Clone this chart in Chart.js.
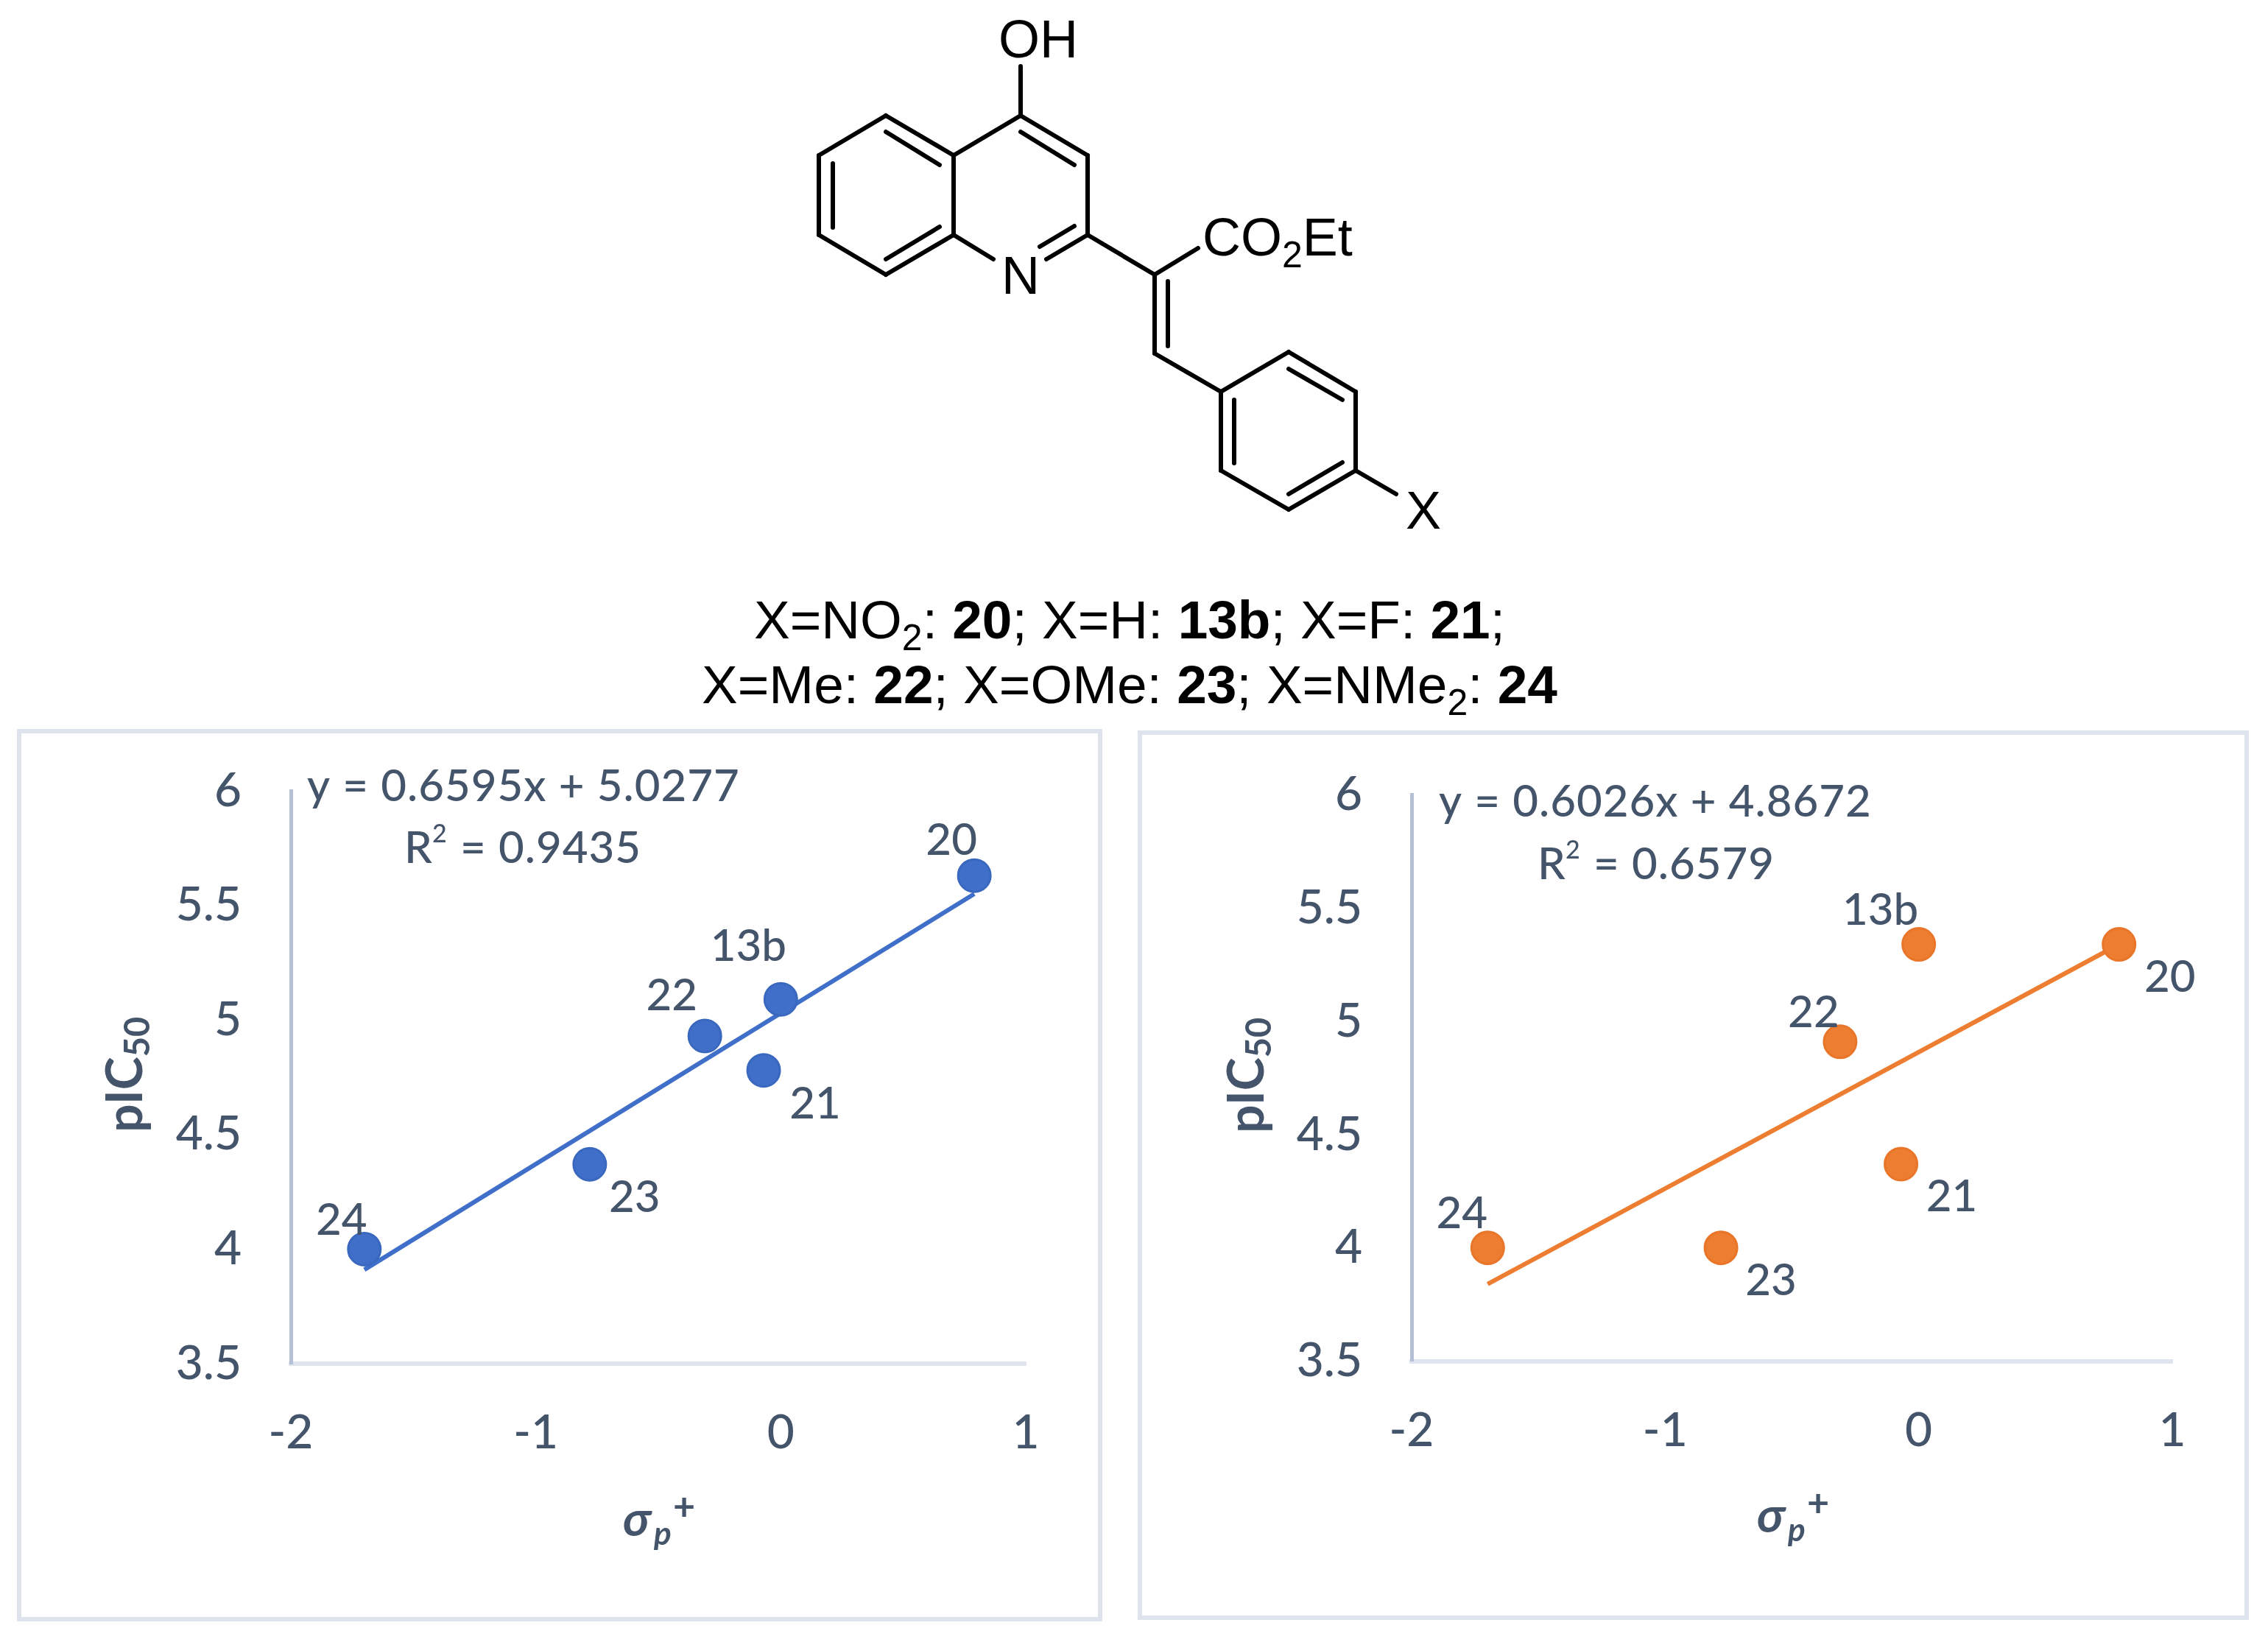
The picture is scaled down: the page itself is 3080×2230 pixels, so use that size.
<!DOCTYPE html>
<html>
<head>
<meta charset="utf-8">
<title>pIC50 vs sigma plus</title>
<script src="https://cdn.jsdelivr.net/npm/chart.js@4"></script>
<style>
    html, body { margin: 0; padding: 0; background: #fff; }
    #page { position: relative; width: 3080px; height: 2230px; overflow: hidden; background: #fff; }
    #structure { position: absolute; left: 0; top: 0; }
    #structure line { stroke: #000; stroke-width: 6; stroke-linecap: round; }
    #structure text { font-family: "Liberation Sans", Arial, sans-serif; fill: #000; }
    .panel { position: absolute; box-sizing: border-box; border: 6px solid #dfe4ec; background: #fff; }
    .panel canvas { position: absolute; left: -6px; top: -6px; display: block; }
    #panel-left { left: 23px; top: 990px; width: 1474px; height: 1212px; }
    #panel-right { left: 1545px; top: 992px; width: 1509px; height: 1208px; }
</style>
</head>
<body>
<div id="page">
    <svg id="structure" width="3080" height="985" viewBox="0 0 3080 985">
        <!-- quinoline -->
        <line x1="1386" y1="90" x2="1386" y2="157"/>
        <line x1="1386" y1="157" x2="1477" y2="211"/>
        <line x1="1477" y1="211" x2="1477" y2="319"/>
        <line x1="1477" y1="319" x2="1421" y2="352"/>
        <line x1="1349" y1="352" x2="1295" y2="319"/>
        <line x1="1295" y1="319" x2="1295" y2="211"/>
        <line x1="1295" y1="211" x2="1386" y2="157"/>
        <line x1="1295" y1="211" x2="1203" y2="157"/>
        <line x1="1203" y1="157" x2="1112" y2="211"/>
        <line x1="1112" y1="211" x2="1112" y2="319"/>
        <line x1="1112" y1="319" x2="1203" y2="373"/>
        <line x1="1203" y1="373" x2="1295" y2="319"/>
        <line x1="1203" y1="179" x2="1276" y2="224"/>
        <line x1="1131" y1="222" x2="1131" y2="309"/>
        <line x1="1203" y1="352" x2="1276" y2="308"/>
        <line x1="1386" y1="179" x2="1459" y2="224"/>
        <line x1="1412" y1="335" x2="1459" y2="307"/>
        <!-- side chain -->
        <line x1="1477" y1="319" x2="1568" y2="373"/>
        <line x1="1568" y1="373" x2="1627" y2="337"/>
        <line x1="1568" y1="373" x2="1568" y2="480"/>
        <line x1="1586" y1="382" x2="1586" y2="470"/>
        <line x1="1568" y1="480" x2="1658" y2="532"/>
        <!-- phenyl -->
        <line x1="1658" y1="532" x2="1750" y2="478"/>
        <line x1="1750" y1="478" x2="1841" y2="532"/>
        <line x1="1841" y1="532" x2="1841" y2="639"/>
        <line x1="1841" y1="639" x2="1750" y2="692"/>
        <line x1="1750" y1="692" x2="1658" y2="639"/>
        <line x1="1658" y1="639" x2="1658" y2="532"/>
        <line x1="1750" y1="501" x2="1823" y2="543"/>
        <line x1="1676" y1="543" x2="1676" y2="629"/>
        <line x1="1750" y1="671" x2="1823" y2="628"/>
        <line x1="1841" y1="639" x2="1896" y2="671"/>
        <!-- atom labels -->
        <text x="1410" y="78" font-size="72" text-anchor="middle">OH</text>
        <text x="1386" y="399" font-size="72" text-anchor="middle">N</text>
        <text x="1633" y="347" font-size="72">CO<tspan font-size="50" dy="16">2</tspan><tspan dy="-16">Et</tspan></text>
        <text x="1933" y="718" font-size="72" text-anchor="middle">X</text>
        <!-- caption -->
        <text x="1534" y="867" font-size="73" text-anchor="middle">X=NO<tspan font-size="50" dy="16">2</tspan><tspan dy="-16">: </tspan><tspan font-weight="bold">20</tspan>; X=H: <tspan font-weight="bold">13b</tspan>; X=F: <tspan font-weight="bold">21</tspan>;</text>
        <text x="1534" y="955" font-size="73" text-anchor="middle">X=Me: <tspan font-weight="bold">22</tspan>; X=OMe: <tspan font-weight="bold">23</tspan>; X=NMe<tspan font-size="50" dy="16">2</tspan><tspan dy="-16">: </tspan><tspan font-weight="bold">24</tspan></text>
    </svg>
    <div class="panel" id="panel-left"><canvas id="chart-left" width="1474" height="1212"></canvas></div>
    <div class="panel" id="panel-right"><canvas id="chart-right" width="1509" height="1208"></canvas></div>
</div>

<script>
    const compounds  = ["20", "13b", "21", "22", "23", "24"];
    const sigmaPlus  = [0.79, 0, -0.07, -0.31, -0.78, -1.7];
    const pic50Left  = [5.63, 5.09, 4.78, 4.93, 4.37, 4.0];
    const pic50Right = [5.34, 5.34, 4.37, 4.91, 4.0, 4.0];

    // trendline ends
    const trendX     = [-1.7, 0.79];
    const trendLeft  = [3.91, 5.55];
    const trendRight = [3.84, 5.34];

    const xRange = [-2, 1];
    const yRange = [3.5, 6];

    const INK  = "#44546a";
    const FONT = "Lato, 'Noto Sans', sans-serif";

    // Draws compound names, the fit equation and the two axis titles
    const notes = {
        id: "notes",
        afterDatasetsDraw(chart, args, o) {
            const ctx = chart.ctx;
            const points = chart.getDatasetMeta(0).data;
            ctx.save();
            ctx.fillStyle = INK;
            ctx.textBaseline = "middle";

            ctx.font = "500 60px " + FONT;
            ctx.textAlign = "center";
            points.forEach((pt, i) => {
                const off = o.labelOffsets[i];
                ctx.fillText(compounds[i], pt.x + off[0], pt.y + off[1]);
            });

            ctx.textAlign = "left";
            ctx.letterSpacing = "1px";
            ctx.fillText(o.equation, o.eqPos[0], o.eqPos[1]);
            ctx.fillText(o.r2Label, o.r2Pos[0], o.r2Pos[1]);
            ctx.font = "500 34px " + FONT;
            ctx.fillText("2", o.r2Pos[0] + 38, o.r2Pos[1] - 20);
            ctx.font = "500 60px " + FONT;
            ctx.fillText(o.r2Value, o.r2Pos[0] + 76, o.r2Pos[1]);
            ctx.letterSpacing = "0px";

            // y title, rotated
            ctx.textBaseline = "alphabetic";
            ctx.save();
            ctx.translate(o.yTitle[0], o.yTitle[1]);
            ctx.rotate(-Math.PI / 2);
            ctx.textAlign = "left";
            ctx.font = "bold 68px " + FONT;
            ctx.fillText("pIC", -76, 0);
            const w = ctx.measureText("pIC").width;
            ctx.font = "bold 47px " + FONT;
            ctx.fillText("50", -76 + w, 10);
            ctx.restore();

            // x title
            ctx.font = "italic bold 66px " + FONT;
            ctx.fillText("σ", o.xTitle[0], o.xTitle[1]);
            ctx.font = "italic bold 44px " + FONT;
            ctx.fillText("p", o.xTitle[0] + 42, o.xTitle[1] + 12);
            ctx.font = "bold 52px " + FONT;
            ctx.fillText("+", o.xTitle[0] + 68, o.xTitle[1] - 22);
            ctx.restore();
        }
    };

    function makeChart(canvasId, values, trend, colour, edge, pad, noteOpts) {
        const canvas = document.getElementById(canvasId);
        return new Chart(canvas.getContext("2d"), {
            type: "scatter",
            data: {
                datasets: [
                    {
                        data: sigmaPlus.map((x, i) => ({ x: x, y: values[i] })),
                        pointRadius: 22,
                        pointBackgroundColor: colour,
                        pointBorderColor: edge,
                        pointBorderWidth: 3,
                        clip: false,
                        order: 1
                    },
                    {
                        data: trendX.map((x, i) => ({ x: x, y: trend[i] })),
                        showLine: true,
                        pointRadius: 0,
                        borderColor: colour,
                        borderWidth: 6,
                        clip: false,
                        order: 2
                    }
                ]
            },
            options: {
                responsive: false,
                animation: false,
                layout: { padding: { top: pad.top, right: pad.right, left: 0, bottom: 0 } },
                plugins: { legend: { display: false }, tooltip: { enabled: false }, notes: noteOpts },
                scales: {
                    x: {
                        type: "linear",
                        min: xRange[0],
                        max: xRange[1],
                        afterFit: (scale) => { scale.height = pad.bottom; },
                        grid: { display: true, drawOnChartArea: false, drawTicks: false },
                        border: { color: "#dfe4ee", width: 6 },
                        ticks: { stepSize: 1, padding: 56, color: INK, font: { family: FONT, size: 64, weight: "500" }, callback: v => String(v) }
                    },
                    y: {
                        min: yRange[0],
                        max: yRange[1],
                        // tick padding would otherwise push the plot top down
                        afterFit: (scale) => { scale.width = pad.left; scale.paddingTop = 0; scale.paddingBottom = 0; },
                        grid: { display: true, drawOnChartArea: false, drawTicks: false },
                        border: { color: "#b4c0d6", width: 5 },
                        ticks: { stepSize: 0.5, padding: 67, color: INK, font: { family: FONT, size: 64, weight: "500" }, callback: v => String(v) }
                    }
                }
            },
            plugins: [notes]
        });
    }

    // canvas origin is the outer corner of the panel frame
    makeChart("chart-left", pic50Left, trendLeft, "#3f6fc8", "#3a68bf",
        { top: 84, right: 104, left: 372, bottom: 350 },
        {
            labelOffsets: [[-31, -47], [-44, -72], [70, 46], [-45, -54], [61, 45], [-31, -39]],
            equation: "y = 0.6595x + 5.0277",
            r2Label: "R",
            r2Value: "= 0.9435",
            eqPos: [394, 79],
            r2Pos: [526, 163],
            yTitle: [170, 472],
            xTitle: [823, 1096]
        });

    makeChart("chart-right", pic50Right, trendRight, "#ed7d31", "#e87528",
        { top: 87.5, right: 104, left: 372, bottom: 351.5 },
        {
            labelOffsets: [[69, 45], [-52, -46], [69, 45], [-36, -39], [68, 45], [-35, -46]],
            equation: "y = 0.6026x + 4.8672",
            r2Label: "R",
            r2Value: "= 0.6579",
            eqPos: [409, 98],
            r2Pos: [543, 183],
            yTitle: [171, 471],
            xTitle: [841, 1089]
        });
</script>
</body>
</html>
